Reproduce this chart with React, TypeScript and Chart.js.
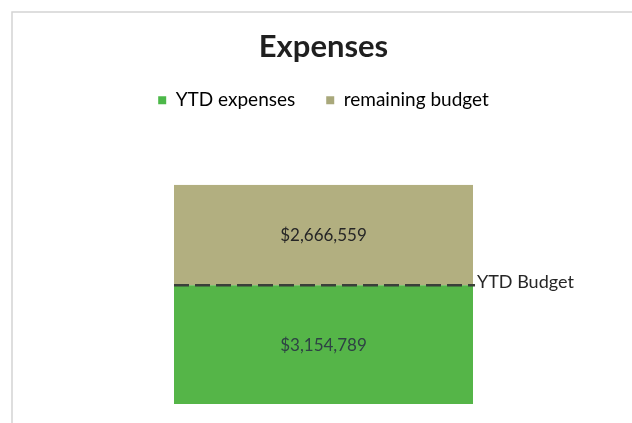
import React, { useEffect, useRef } from "react";
import { Chart, registerables } from "chart.js";

Chart.register(...registerables);

const categories = ["Expenses"];
const ytdExpenses = [3154789];
const remainingBudget = [2666559];
const ytdBudgetValue = 3154789;
const seriesLabels = ["YTD expenses", "remaining budget"];
const budgetLabel = "YTD Budget";

const FONT = "Lato, 'Liberation Sans', sans-serif";

const fmt = (v: number) => "$" + v.toLocaleString("en-US");

const overlayPlugin = {
  id: "overlay",
  beforeDraw(chart: any) {
    const ctx = chart.ctx;
    ctx.save();
    ctx.strokeStyle = "#d4d4d4";
    ctx.lineWidth = 1.5;
    ctx.beginPath();
    ctx.moveTo(12, 423);
    ctx.lineTo(12, 12);
    ctx.lineTo(632, 12);
    ctx.stroke();
    ctx.restore();
  },
  afterDatasetsDraw(chart: any) {
    const ctx = chart.ctx;
    ctx.save();
    ctx.font = `17px ${FONT}`;
    ctx.textAlign = "center";
    ctx.textBaseline = "middle";
    chart.data.datasets.forEach((ds: any, i: number) => {
      const meta = chart.getDatasetMeta(i);
      meta.data.forEach((el: any, j: number) => {
        const p = el.getProps(["x", "y", "base"], true);
        ctx.fillStyle = i === 0 ? "#2e4244" : "#262626";
        ctx.fillText(fmt(ds.data[j]), p.x, (p.y + p.base) / 2 + 1);
      });
    });
    const el = chart.getDatasetMeta(0).data[0];
    const p = el.getProps(["x", "width"], true);
    const left = p.x - p.width / 2;
    const right = p.x + p.width / 2;
    const y = chart.scales.y.getPixelForValue(ytdBudgetValue);
    ctx.strokeStyle = "#3a3f3a";
    ctx.lineWidth = 2.5;
    ctx.setLineDash([15, 6]);
    ctx.beginPath();
    ctx.moveTo(left, y);
    ctx.lineTo(right + 2, y);
    ctx.stroke();
    ctx.setLineDash([]);
    ctx.fillStyle = "#262626";
    ctx.font = `18px ${FONT}`;
    ctx.textAlign = "left";
    ctx.textBaseline = "middle";
    ctx.fillText(budgetLabel, right + 4, y - 3);
    ctx.restore();
  },
};

export default function App() {
  const ref = useRef<HTMLCanvasElement>(null);
  useEffect(() => {
    document.body.style.margin = "0";
    const total = ytdExpenses[0] + remainingBudget[0];
    const chart = new Chart(ref.current as HTMLCanvasElement, {
      type: "bar",
      data: {
        labels: categories,
        datasets: [
          {
            label: seriesLabels[0],
            data: ytdExpenses,
            backgroundColor: "#55b548",
            borderWidth: 0,
            barPercentage: 1,
            categoryPercentage: 0.4846,
          },
          {
            label: seriesLabels[1],
            data: remainingBudget,
            backgroundColor: "#b2af80",
            borderWidth: 0,
            barPercentage: 1,
            categoryPercentage: 0.4846,
          },
        ],
      },
      options: {
        responsive: false,
        animation: false,
        layout: { padding: { left: 15, right: 0, top: 0, bottom: 19 } },
        plugins: {
          title: {
            display: true,
            text: "Expenses",
            color: "#1f1f1f",
            font: { family: FONT, size: 31, weight: "bold", lineHeight: 0.8 },
            padding: { top: 35, bottom: 0 },
          },
          legend: {
            display: true,
            position: "top",
            labels: {
              color: "#1f1f1f",
              font: { family: FONT, size: 19 },
              boxWidth: 8,
              boxHeight: 8,
              padding: 31,
              generateLabels: () => [
                { text: seriesLabels[0], fillStyle: "#4cb849", strokeStyle: "#4cb849", lineWidth: 0, datasetIndex: 0 },
                { text: seriesLabels[1], fillStyle: "#a9a87b", strokeStyle: "#a9a87b", lineWidth: 0, datasetIndex: 1 },
              ],
            },
          },
          tooltip: { enabled: false },
        },
        scales: {
          x: {
            stacked: true,
            position: "top",
            display: true,
            grid: { display: false },
            border: { display: false },
            ticks: { display: false },
            afterFit: (scale: any) => {
              scale.height = 65;
            },
          },
          y: {
            stacked: true,
            display: false,
            min: 0,
            max: total,
          },
        },
      },
      plugins: [overlayPlugin],
    });
    return () => chart.destroy();
  }, []);
  return (
    <div style={{ position: "relative", width: 632, height: 423 }}>
      <canvas ref={ref} width={632} height={423} style={{ display: "block" }} />
    </div>
  );
}
